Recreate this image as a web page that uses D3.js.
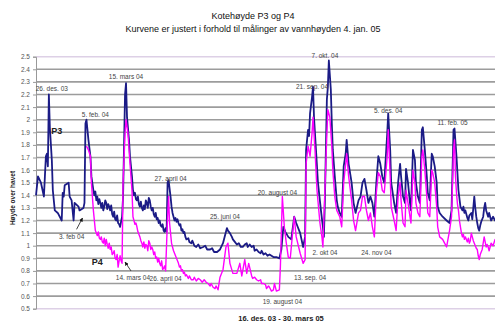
<!DOCTYPE html>
<html>
<head>
<meta charset="utf-8">
<script src="https://cdn.jsdelivr.net/npm/d3@7"></script>
<style>
  body { margin: 0; background: #fff; }
  svg { display: block; font-family: "Liberation Sans", Arial, sans-serif; }
</style>
</head>
<body>
<div id="chart"></div>
<script>
// Measurement days counted from 16 Dec 2003, [day, level]
const startDate = new Date(2003, 11, 16);
const endDate = new Date(2005, 2, 30);

const p3 = [[0,1.40],[2,1.55],[5,1.50],[8,1.39],[9,1.55],[10,1.71],[11,1.73],[12,1.63],[13,2.20],[14,1.94],[16,1.68],[17,1.44],[19,1.28],[22,1.26],[26,1.20],[27,1.42],[28,1.39],[29,1.48],[33,1.50],[34,1.39],[36,1.36],[38,1.20],[39,1.34],[43,1.31],[44,1.28],[48,1.30],[49,1.34],[50,1.97],[51,2.00],[53,1.84],[55,1.71],[56,1.55],[58,1.44],[59,1.40],[60,1.43],[61,1.36],[62,1.39],[63,1.33],[64,1.37],[65,1.34],[66,1.30],[67,1.34],[68,1.28],[69,1.31],[70,1.36],[71,1.34],[72,1.29],[73,1.33],[74,1.31],[75,1.28],[76,1.32],[77,1.25],[78,1.23],[79,1.27],[80,1.21],[81,1.20],[82,1.24],[83,1.18],[84,1.17],[85,1.15],[86,1.19],[87,1.23],[88,1.39],[90,2.20],[91,2.29],[92,2.02],[94,1.84],[95,1.71],[97,1.55],[98,1.44],[99,1.40],[100,1.42],[101,1.37],[102,1.36],[103,1.39],[104,1.33],[105,1.31],[106,1.35],[107,1.30],[108,1.28],[109,1.32],[110,1.29],[111,1.36],[112,1.34],[113,1.30],[114,1.38],[115,1.36],[116,1.31],[117,1.28],[118,1.30],[119,1.25],[120,1.23],[121,1.26],[122,1.21],[123,1.22],[124,1.18],[125,1.20],[126,1.16],[127,1.15],[128,1.17],[129,1.12],[130,1.11],[131,1.14],[132,1.11],[133,1.50],[134,1.52],[136,1.39],[137,1.31],[138,1.26],[139,1.23],[140,1.20],[141,1.22],[142,1.19],[143,1.21],[144,1.18],[145,1.16],[146,1.17],[147,1.12],[148,1.13],[149,1.10],[150,1.11],[151,1.07],[152,1.05],[154,1.06],[155,1.03],[157,1.02],[158,1.04],[160,1.00],[162,0.99],[164,1.01],[166,0.98],[169,0.99],[171,1.00],[173,0.97],[176,0.97],[178,0.98],[180,0.95],[183,0.95],[186,0.97],[189,1.02],[193,1.14],[194,1.12],[196,1.10],[198,1.07],[199,1.05],[201,1.03],[203,1.01],[205,1.02],[207,0.99],[209,0.99],[211,1.01],[213,1.02],[214,0.99],[216,1.01],[218,0.99],[220,1.00],[221,0.96],[223,0.97],[225,0.95],[227,0.94],[228,0.96],[230,0.93],[232,0.94],[234,0.92],[236,0.93],[238,0.92],[240,0.91],[243,0.91],[246,0.90],[248,0.97],[250,1.15],[252,1.11],[255,1.07],[258,1.05],[261,1.23],[263,1.18],[267,1.10],[270,0.99],[272,1.07],[273,1.76],[275,1.92],[276,1.87],[277,2.05],[279,2.18],[280,2.26],[281,2.02],[283,1.76],[285,1.50],[288,1.28],[290,1.15],[291,1.07],[292,1.36],[294,2.16],[295,2.26],[296,2.47],[298,2.24],[299,1.97],[300,1.76],[302,1.55],[304,1.36],[305,1.31],[307,1.26],[309,1.23],[311,1.63],[313,1.73],[314,1.84],[316,1.65],[319,1.50],[321,1.34],[323,1.26],[326,1.36],[328,1.39],[330,1.50],[332,1.53],[334,1.44],[336,1.34],[338,1.39],[340,1.34],[342,1.23],[344,1.50],[346,1.71],[348,1.65],[350,1.55],[352,1.50],[355,1.89],[356,2.05],[358,1.76],[359,1.50],[362,1.34],[364,1.26],[366,1.50],[368,1.65],[369,1.55],[371,1.39],[373,1.34],[374,1.61],[376,1.50],[378,1.34],[379,1.28],[381,1.76],[383,1.68],[384,1.50],[386,1.39],[388,1.34],[390,1.92],[391,1.94],[393,1.76],[395,1.55],[396,1.42],[398,1.36],[400,1.73],[401,1.71],[403,1.63],[405,1.50],[406,1.31],[408,1.26],[411,1.23],[415,1.20],[418,1.18],[420,1.28],[422,1.92],[423,1.93],[425,1.71],[427,1.44],[429,1.31],[431,1.28],[432,1.31],[433,1.26],[434,1.28],[436,1.22],[437,1.20],[438,1.24],[440,1.26],[441,1.21],[443,1.39],[444,1.30],[445,1.23],[446,1.18],[447,1.14],[448,1.12],[449,1.16],[450,1.19],[452,1.23],[453,1.30],[454,1.34],[455,1.28],[457,1.23],[458,1.26],[460,1.20],[462,1.23],[464,1.20],[466,1.19],[467,1.22],[470,1.18]];

const p4 = [[51,1.79],[53,1.76],[55,1.71],[56,1.50],[58,1.28],[60,1.12],[61,1.10],[62,1.08],[63,1.11],[64,1.06],[65,1.05],[66,1.07],[67,1.03],[68,1.02],[69,1.06],[70,1.00],[71,1.05],[72,1.01],[73,0.98],[74,1.02],[75,0.97],[76,0.99],[77,0.93],[78,0.94],[79,0.96],[80,0.90],[81,0.89],[82,0.93],[83,0.83],[84,0.88],[85,0.92],[86,0.88],[87,0.86],[88,1.50],[90,1.89],[91,2.00],[93,1.89],[95,1.65],[97,1.44],[98,1.23],[99,1.20],[100,1.17],[101,1.18],[102,1.15],[103,1.11],[104,1.09],[105,1.07],[106,1.04],[107,1.02],[108,0.99],[109,1.03],[110,0.98],[111,1.01],[112,1.00],[113,0.96],[114,1.04],[115,1.02],[116,0.97],[117,0.99],[118,0.97],[119,0.93],[120,0.95],[121,0.90],[122,0.91],[123,0.87],[124,0.90],[125,0.86],[126,0.84],[127,0.88],[128,0.81],[129,0.82],[130,0.84],[131,0.80],[133,1.23],[134,1.39],[135,1.18],[137,1.02],[138,0.99],[139,0.96],[140,0.94],[141,0.92],[142,0.90],[143,0.88],[144,0.86],[145,0.83],[146,0.84],[147,0.80],[148,0.81],[149,0.78],[150,0.79],[151,0.76],[152,0.77],[154,0.74],[155,0.76],[157,0.73],[159,0.73],[160,0.75],[162,0.72],[164,0.74],[166,0.73],[168,0.71],[170,0.73],[172,0.71],[174,0.70],[176,0.68],[177,0.70],[179,0.67],[181,0.66],[182,0.68],[184,0.65],[186,0.75],[189,0.81],[192,0.99],[194,1.02],[196,0.86],[199,0.78],[203,0.78],[206,0.86],[208,0.76],[211,0.89],[213,0.78],[215,0.86],[218,0.76],[219,0.74],[221,0.75],[223,0.73],[225,0.72],[227,0.73],[228,0.70],[230,0.70],[232,0.69],[233,0.66],[235,0.68],[236,0.67],[238,0.64],[240,0.65],[241,0.70],[243,0.64],[246,0.65],[247,0.83],[249,1.39],[251,1.15],[253,1.02],[255,0.91],[257,0.90],[259,1.07],[261,1.23],[263,1.07],[267,0.94],[270,0.86],[272,0.89],[273,1.65],[275,1.79],[277,1.71],[279,1.89],[280,2.02],[282,1.76],[284,1.44],[287,1.18],[289,1.07],[290,0.99],[292,1.44],[294,1.89],[295,2.08],[297,2.02],[299,1.79],[300,1.60],[302,1.39],[304,1.28],[307,1.23],[309,1.15],[311,1.50],[313,1.65],[314,1.73],[316,1.55],[319,1.36],[321,1.20],[323,1.12],[326,1.26],[328,1.28],[330,1.39],[332,1.39],[334,1.28],[336,1.20],[338,1.26],[340,1.15],[342,1.07],[344,1.42],[346,1.58],[348,1.55],[350,1.44],[352,1.42],[355,1.71],[356,1.92],[358,1.55],[359,1.31],[362,1.20],[364,1.12],[366,1.39],[368,1.50],[369,1.36],[371,1.18],[373,1.15],[374,1.44],[376,1.34],[378,1.23],[379,1.18],[381,1.60],[383,1.50],[384,1.34],[386,1.26],[388,1.23],[390,1.71],[391,1.76],[393,1.60],[395,1.39],[396,1.26],[398,1.23],[400,1.60],[401,1.58],[403,1.50],[405,1.31],[406,1.15],[408,1.07],[411,1.05],[413,1.02],[415,0.99],[418,1.12],[420,1.23],[422,1.76],[423,1.84],[424,1.55],[425,1.42],[426,1.33],[427,1.28],[428,1.20],[429,1.15],[430,1.10],[431,1.07],[432,1.09],[433,1.05],[434,1.07],[435,1.05],[436,1.03],[437,1.06],[438,1.02],[439,1.04],[440,1.10],[441,1.07],[442,1.04],[443,1.02],[444,1.00],[445,0.98],[446,0.97],[447,0.92],[448,0.89],[449,0.93],[450,0.95],[451,0.97],[452,1.02],[453,1.07],[454,1.03],[455,0.99],[456,1.01],[457,0.99],[458,0.96],[459,0.99],[460,1.02],[462,1.00],[464,1.05],[466,1.01],[468,1.03],[470,1.00]];

const yTicks = [0.5,0.6,0.7,0.8,0.9,1,1.1,1.2,1.3,1.4,1.5,1.6,1.7,1.8,1.9,2,2.1,2.2,2.3,2.4,2.5];

// label text, day, level
const notes = [
  ["26. des. 03", 16, 2.23], ["5. feb. 04", 60, 2.02], ["15. mars 04", 91, 2.32],
  ["27. april 04", 136, 1.51], ["25. juni 04", 191, 1.21], ["20. august 04", 244, 1.40],
  ["21. sep. 04", 279, 2.24], ["7. okt. 04", 292, 2.49], ["5. des. 04", 356, 2.05],
  ["11. feb. 05", 421, 1.96], ["3. feb 04", 36, 1.05], ["14. mars 04", 98, 0.73],
  ["26. april 04", 131, 0.72], ["19. august 04", 249, 0.54], ["13. sep. 04", 277, 0.73],
  ["2. okt 04", 292, 0.93], ["24. nov 04", 344, 0.93]
];
const seriesNames = [["P3", 21, 1.89], ["P4", 62, 0.85]];
// arrows: from [day, level] to [day, level]
const arrows = [[[41.4, 1.13], [47.3, 1.22]], [[96.5, 0.80], [90.8, 0.87]]];

const width = 495, height = 324;
const svg = d3.select("#chart").append("svg")
  .attr("width", width).attr("height", height);

const x = d3.scaleTime().domain([startDate, endDate]).range([36, 501]);
const y = d3.scaleLinear().domain([0.5, 2.5]).range([308.7, 56.7]);
const day = d => d3.timeDay.offset(startDate, d);

// titles
svg.append("text").attr("x", 253).attr("y", 19).attr("text-anchor", "middle")
  .style("font-size", "9px").attr("fill", "#111").text("Kotehøyde P3 og P4");
svg.append("text").attr("x", 253).attr("y", 32).attr("text-anchor", "middle")
  .style("font-size", "9px").attr("fill", "#111").text("Kurvene er justert i forhold til målinger av vannhøyden 4. jan. 05");

// grid lines
svg.append("g").selectAll("line").data(yTicks).join("line")
  .attr("x1", 36).attr("x2", width)
  .attr("y1", d => y(d)).attr("y2", d => y(d))
  .attr("stroke", (d, i) => (i === 0 || i === yTicks.length - 1) ? "#ddd0e6" : "#9c9c9c")
  .attr("stroke-width", 1.6);

// y axis
const yAxis = svg.append("g").attr("transform", "translate(36,0)")
  .call(d3.axisLeft(y).tickValues(yTicks).tickSize(3).tickFormat(d3.format("~g")));
yAxis.select(".domain").attr("stroke", "#999");
yAxis.selectAll(".tick line").attr("stroke", "#999");
yAxis.selectAll("text").attr("fill", "#555").style("font-size", "6.5px")
  .style("font-family", "Liberation Sans, Arial, sans-serif");

svg.append("text").attr("transform", "translate(15,198) rotate(-90)")
  .attr("text-anchor", "middle").style("font-size", "6.5px").style("font-weight", "bold")
  .attr("fill", "#222").text("Høyde over havet");

svg.append("text").attr("x", 281).attr("y", 321).attr("text-anchor", "middle")
  .style("font-size", "7.5px").style("font-weight", "bold").attr("fill", "#222")
  .text("16. des. 03 - 30. mars 05");

// series
const line = d3.line().x(d => x(day(d[0]))).y(d => y(d[1]));

svg.append("path").datum(p3).attr("d", line)
  .attr("fill", "none").attr("stroke", "#1b1b86").attr("stroke-width", 1.8)
  .attr("stroke-linejoin", "round");
svg.append("path").datum(p4).attr("d", line)
  .attr("fill", "none").attr("stroke", "#ff00ff").attr("stroke-width", 1.4)
  .attr("stroke-linejoin", "round");

// annotations
svg.append("g").attr("text-anchor", "middle").selectAll("text").data(notes).join("text")
  .attr("x", d => x(day(d[1]))).attr("y", d => y(d[2]))
  .style("font-size", "6.5px").attr("fill", "#444").text(d => d[0]);

svg.append("g").attr("text-anchor", "middle").selectAll("text").data(seriesNames).join("text")
  .attr("x", d => x(day(d[1]))).attr("y", d => y(d[2]))
  .style("font-size", "9px").style("font-weight", "bold").attr("fill", "#222").text(d => d[0]);

svg.append("defs").append("marker").attr("id", "head")
  .attr("viewBox", "0 0 10 10").attr("refX", 9).attr("refY", 5)
  .attr("markerWidth", 5).attr("markerHeight", 5).attr("orient", "auto")
  .append("path").attr("d", "M0,0L10,5L0,10Z").attr("fill", "#111");

svg.append("g").selectAll("line").data(arrows).join("line")
  .attr("x1", d => x(day(d[0][0]))).attr("y1", d => y(d[0][1]))
  .attr("x2", d => x(day(d[1][0]))).attr("y2", d => y(d[1][1]))
  .attr("stroke", "#111").attr("stroke-width", 0.8).attr("marker-end", "url(#head)");
</script>
</body>
</html>
